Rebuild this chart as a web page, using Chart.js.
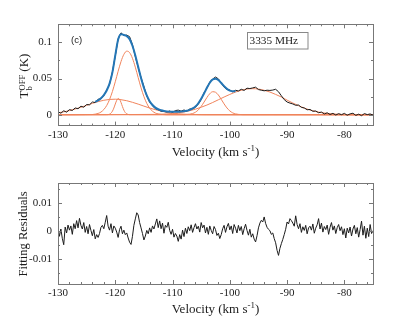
<!DOCTYPE html>
<html>
<head>
<meta charset="utf-8">
<script src="https://cdn.jsdelivr.net/npm/chart.js@4.4.1/dist/chart.umd.min.js"></script>
<style>
  html, body { margin: 0; padding: 0; background: #fff; }
  #wrap { position: relative; width: 412px; height: 334px; }
  canvas { position: absolute; left: 0; }
  #spectrum { top: 0; }
  #residuals { top: 167px; }
</style>
</head>
<body>
<div id="wrap">
  <canvas id="spectrum" width="412" height="167"></canvas>
  <canvas id="residuals" width="412" height="167"></canvas>
</div>
<script>
// observed OFF spectrum (black), channels every 0.5 km/s from -130
const specStart = -130, specStep = 0.5;
const specT = [
  0.0042, 0.0021, 0.0055, 0.0036, 0.0071, 0.0059, 0.0094, 0.0083, 0.0118, 0.0104,
  0.0141, 0.0137, 0.0176, 0.0169, 0.0214, 0.0221, 0.0264, 0.0342, 0.0421, 0.0592,
  0.0811, 0.1048, 0.1132, 0.1095, 0.1101, 0.1079, 0.0968, 0.0804, 0.0651, 0.0513,
  0.0391, 0.0258, 0.0174, 0.0126, 0.0083, 0.0071, 0.0049, 0.0046, 0.0038, 0.0052,
  0.0031, 0.0058, 0.0064, 0.0049, 0.0066, 0.0051, 0.0079, 0.0081, 0.0103, 0.0147,
  0.0209, 0.0304, 0.0368, 0.0452, 0.0494, 0.0521, 0.0496, 0.0437, 0.0381, 0.0349,
  0.0342, 0.0317, 0.0338, 0.0329, 0.0352, 0.0336, 0.0367, 0.0362, 0.0371, 0.0381,
  0.0348, 0.0339, 0.0331, 0.0339, 0.0336, 0.0341, 0.0352, 0.0318, 0.0262, 0.0209,
  0.0176, 0.0161, 0.0149, 0.0131, 0.0134, 0.0102, 0.0094, 0.0069, 0.0073, 0.0048,
  0.0052, 0.0028, 0.0037, 0.0011, 0.0027, 0.0003, 0.0019, -0.0004, 0.0015, 0.0001,
  0.0019, -0.0007, 0.0012, 0.0021, -0.0009, 0.0008, -0.0013, 0.0016, 0.0002, 0.0011,
  -0.0004
];

// total fit (blue)
const fitStart = -123.5, fitStep = 0.5;
const fitT = [
  0.0178, 0.0199, 0.0229, 0.0272, 0.0335, 0.0430, 0.0585, 0.0820, 0.1039, 0.1114,
  0.1102, 0.1087, 0.1045, 0.0954, 0.0820, 0.0663, 0.0508, 0.0373, 0.0267, 0.0188,
  0.0135, 0.0099, 0.0076, 0.0062, 0.0052, 0.0045, 0.0042, 0.0040, 0.0040, 0.0041,
  0.0044, 0.0048, 0.0056, 0.0068, 0.0087, 0.0115, 0.0159, 0.0220, 0.0293, 0.0372,
  0.0443, 0.0487, 0.0499, 0.0480, 0.0439, 0.0395, 0.0358, 0.0334, 0.0324, 0.0326
];

// gaussian components (orange)
const compAVel = [-130, -124, -123.5, -123, -122.5, -122, -121.5, -121, -120.5, -120, -119.5,
  -119, -118.5, -118, -117.5, -117, -116.5, -116, -115.5, -115, -114.5, -114, -113.5, -113,
  -112.5, -112, -111.5, -111, -75];
const compAT = [0, 0.0003, 0.0008, 0.0018, 0.0037, 0.0072, 0.0127, 0.0210, 0.0321, 0.0456, 0.0601,
  0.0735, 0.0834, 0.0879, 0.0859, 0.0780, 0.0657, 0.0513, 0.0372, 0.0251, 0.0157, 0.0091, 0.0049, 0.0024,
  0.0011, 0.0005, 0.0002, 0, 0];

const compBVel = [-130, -121.5, -121.25, -121, -120.75, -120.5, -120.25, -120, -119.75, -119.5,
  -119.25, -119, -118.75, -118.5, -118.25, -118, -117.75, -117.5, -75];
const compBT = [0, 0.0001, 0.0002, 0.0008, 0.0022, 0.0049, 0.0092, 0.0148, 0.0199, 0.0224,
  0.0213, 0.0170, 0.0114, 0.0064, 0.0030, 0.0012, 0.0004, 0.0001, 0];

const compCVel = [-130, -129, -128, -127, -126, -125, -124, -123, -122, -121, -120, -119, -118, -117,
  -116, -115, -114, -113, -112, -111, -110, -109, -108, -107, -106, -105, -104, -75];
const compCT = [0.0027, 0.0040, 0.0057, 0.0079, 0.0103, 0.0130, 0.0157, 0.0181, 0.0200, 0.0212, 0.0215,
  0.0208, 0.0194, 0.0172, 0.0147, 0.0119, 0.0093, 0.0070, 0.0050, 0.0034, 0.0022, 0.0014, 0.0008,
  0.0005, 0.0003, 0.0001, 0, 0];

const compDVel = [-130, -108, -107.5, -107, -106.5, -106, -105.5, -105, -104.5, -104, -103.5, -103,
  -102.5, -102, -101.5, -101, -100.5, -100, -99.5, -99, -98.5, -98, -97.5, -75];
const compDT = [0, 0.0001, 0.0003, 0.0007, 0.0017, 0.0035, 0.0067, 0.0115, 0.0175, 0.0238, 0.0291, 0.0318,
  0.0311, 0.0273, 0.0213, 0.0150, 0.0094, 0.0053, 0.0026, 0.0012, 0.0005, 0.0002, 0.0001, 0];

const compEVel = [-130, -113, -112, -111, -110, -109, -108, -107, -106, -105, -104, -103, -102, -101,
  -100, -99, -98, -97, -96, -95, -94, -93, -92, -91, -90, -89, -88, -87, -86, -85, -84, -83, -82,
  -81, -80, -79, -78, -75];
const compET = [0, 0.0005, 0.0007, 0.0011, 0.0018, 0.0027, 0.0039, 0.0056, 0.0077, 0.0104, 0.0134,
  0.0169, 0.0207, 0.0245, 0.0281, 0.0314, 0.0338, 0.0355, 0.0360, 0.0355, 0.0338, 0.0314, 0.0281,
  0.0245, 0.0202, 0.0162, 0.0125, 0.0092, 0.0065, 0.0044, 0.0029, 0.0018, 0.0011, 0.0006, 0.0003,
  0.0001, 0, 0];

// fitting residuals, channels every 0.25 km/s from -130
const resStart = -130, resStep = 0.25;
const resT = [
  0.0012, -0.0018, 0.0008, -0.0025,   -0.0048, 0.0015, -0.0006, 0.0022,
  0.0004, 0.0019, -0.0011, 0.0027,    0.0009, 0.0038, 0.0012, 0.0046,
  0.0021, 0.0008, 0.0031, -0.0004,    0.0017, -0.0009, 0.0024, 0.0003,
  -0.0016, 0.0006, -0.0027, -0.0012,  -0.0022, -0.0008, 0.0014, 0.0021,
  0.0009, 0.0032, 0.0056, 0.0018,     0.0004, 0.0027, -0.0006, 0.0019,
  0.0011, -0.0003, -0.0022, 0.0006,   0.0018, -0.0009, 0.0004, -0.0012,
  -0.0006, -0.0024, -0.0039, -0.0047, -0.0018, 0.0021, 0.0044, 0.0066,
  0.0058, 0.0031, 0.0012, -0.0008,    -0.0031, -0.0017, 0.0003, -0.0009,
  0.0012, -0.0004, 0.0019, 0.0008,    0.0026, 0.0044, 0.0013, 0.0037,
  0.0009, 0.0029, -0.0007, 0.0021,    0.0014, 0.0032, 0.0003, -0.0011,
  0.0007, -0.0021, -0.0008, -0.0017,  -0.0036, -0.0012, -0.0028, 0.0004,
  -0.0019, 0.0011, -0.0008, 0.0016,   0.0002, 0.0023, -0.0004, 0.0013,
  0.0027, 0.0008, 0.0018, -0.0003,    0.0031, 0.0012, 0.0022, -0.0006,
  0.0014, -0.0011, 0.0019, 0.0003,    -0.0009, 0.0017, 0.0006, -0.0015,
  -0.0007, -0.0026, -0.0012, 0.0009,  0.0021, -0.0004, 0.0016, 0.0028,
  0.0005, 0.0019, -0.0008, 0.0024,    0.0011, -0.0006, 0.0021, 0.0002,
  0.0017, -0.0012, 0.0009, 0.0025,    0.0003, -0.0014, 0.0007, -0.0021,
  -0.0009, -0.0028, -0.0038, -0.0016, 0.0012, 0.0029, 0.0039, 0.0033,
  0.0051, 0.0028, 0.0014, 0.0007,     0.0002, -0.0011, -0.0006, -0.0026,
  -0.0041, -0.0068, -0.0086, -0.0061, -0.0044, -0.0029, -0.0012, 0.0007,
  0.0033, 0.0026, 0.0045, 0.0038,     0.0029, 0.0018, 0.0055, 0.0024,
  0.0009, 0.0027, -0.0004, 0.0016,    0.0003, 0.0021, -0.0009, 0.0012,
  0.0018, 0.0004, 0.0026, -0.0007,    0.0011, 0.0023, 0.0045, 0.0008,
  0.0029, -0.0003, 0.0017, 0.0006,    0.0022, -0.0011, 0.0014, 0.0031,
  0.0004, 0.0019, -0.0008, 0.0013,    0.0024, 0.0002, 0.0016, -0.0012,
  0.0009, -0.0024, 0.0011, -0.0006,   0.0015, -0.0017, 0.0008, 0.0021,
  -0.0009, 0.0013, -0.0021, 0.0006,   0.0036, -0.0014, 0.0018, -0.0025,
  0.0011, -0.0019, 0.0024, -0.0008,   0.0002
];

// axis ticks
const xMajor = [-130, -120, -110, -100, -90, -80];
const xMinor = [-128, -126, -124, -122, -118, -116, -114, -112, -108, -106, -104, -102,
  -98, -96, -94, -92, -88, -86, -84, -82, -78, -76];
const yTopMajor = [0, 0.05, 0.1];
const yTopMinor = [0.025, 0.075];
const yResMajor = [-0.01, 0, 0.01];
const yResMinor = [-0.015, -0.005, 0.005, 0.015];

const blue = 'rgb(36,118,182)';
const orange = 'rgb(240,132,92)';
const ink = '#1c1c1c';
const serif = '"Liberation Serif", "Times New Roman", serif';
const tickFont = {family: serif, size: 11};

const onGrid = (start, step, vals) => vals.map((v, i) => ({x: start + step * i, y: v}));
const toPoints = (vel, vals) => vals.map((v, i) => ({x: vel[i], y: v}));

function xAxis(height) {
    return {
        type: 'linear', min: -130, max: -75,
        grid: {display: false, drawTicks: false},
        border: {display: false},
        afterBuildTicks: s => { s.ticks = xMajor.map(v => ({value: v})); },
        afterFit: s => { s.height = height; },
        ticks: {padding: 3, color: ink, font: tickFont, maxRotation: 0, autoSkip: false,
            callback: v => String(v)}
    };
}

function yAxis(min, max, majors) {
    return {
        type: 'linear', min: min, max: max,
        grid: {display: false, drawTicks: false},
        border: {display: false},
        afterBuildTicks: s => { s.ticks = majors.map(v => ({value: v})); },
        afterFit: s => { s.width = 58; },
        ticks: {padding: 6, color: ink, font: tickFont, autoSkip: false,
            callback: v => String(v)}
    };
}

// text with a superscript part, centred horizontally
function drawVelocityTitle(ctx, cx, baseline) {
    ctx.font = '13px ' + serif;
    const a = 'Velocity (km s', c = ')';
    const wa = ctx.measureText(a).width, wc = ctx.measureText(c).width;
    ctx.font = '9px ' + serif;
    const wb = ctx.measureText('-1').width;
    let x = cx - (wa + wb + wc) / 2;
    ctx.textAlign = 'left';
    ctx.textBaseline = 'alphabetic';
    ctx.font = '13px ' + serif;
    ctx.fillText(a, x, baseline);
    x += wa;
    ctx.font = '9px ' + serif;
    ctx.fillText('-1', x, baseline - 5);
    x += wb;
    ctx.font = '13px ' + serif;
    ctx.fillText(c, x, baseline);
}

const framePlugin = {
    id: 'frame',
    afterDraw(chart, args, opts) {
        const {ctx, chartArea: a, scales: {x, y}} = chart;
        ctx.save();
        ctx.strokeStyle = '#777';
        ctx.lineWidth = 1;
        ctx.beginPath();
        const vTicks = (vals, len) => vals.forEach(v => {
            const px = Math.round(x.getPixelForValue(v)) + 0.5;
            ctx.moveTo(px, a.bottom); ctx.lineTo(px, a.bottom - len);
            ctx.moveTo(px, a.top); ctx.lineTo(px, a.top + len);
        });
        const hTicks = (vals, len) => vals.forEach(v => {
            const py = Math.round(y.getPixelForValue(v)) + 0.5;
            ctx.moveTo(a.left, py); ctx.lineTo(a.left + len, py);
            ctx.moveTo(a.right, py); ctx.lineTo(a.right - len, py);
        });
        vTicks(xMajor, 4);
        vTicks(xMinor, 2);
        hTicks(opts.yMajor, 4);
        hTicks(opts.yMinor, 2);
        ctx.stroke();
        ctx.strokeRect(Math.round(a.left) + 0.5, Math.round(a.top) + 0.5,
            Math.round(a.right - a.left), Math.round(a.bottom - a.top));
        ctx.fillStyle = ink;
        opts.titles(ctx, a);
        ctx.restore();
    }
};

function topTitles(ctx, a) {
    drawVelocityTitle(ctx, (a.left + a.right) / 2, 155.5);

    // rotated T_b^OFF (K)
    ctx.save();
    ctx.translate(28, 76);
    ctx.rotate(-Math.PI / 2);
    ctx.font = '13px ' + serif;
    const wT = ctx.measureText('T').width;
    const wK = ctx.measureText(' (K)').width;
    ctx.font = '8.5px ' + serif;
    const wO = ctx.measureText('OFF').width;
    let x = -(wT + wO + wK) / 2;
    ctx.textAlign = 'left';
    ctx.textBaseline = 'alphabetic';
    ctx.font = '13px ' + serif;
    ctx.fillText('T', x, 0);
    x += wT;
    ctx.font = '8.5px ' + serif;
    ctx.fillText('OFF', x, -3.5);
    ctx.fillText('b', x, 4);
    x += wO;
    ctx.font = '13px ' + serif;
    ctx.fillText(' (K)', x, 0);
    ctx.restore();

    // panel label and frequency box
    ctx.font = '9.5px "Liberation Sans", Arial, sans-serif';
    ctx.textAlign = 'left';
    ctx.textBaseline = 'middle';
    ctx.fillText('(c)', 71, 40);

    ctx.strokeStyle = '#888';
    ctx.strokeRect(247.5, 32.5, 60.5, 16.5);
    ctx.font = '11.3px ' + serif;
    ctx.fillText('3335 MHz', 249.5, 41.2);
}

function bottomTitles(ctx, a) {
    drawVelocityTitle(ctx, (a.left + a.right) / 2, 145.5);
    ctx.save();
    ctx.translate(27, 67);
    ctx.rotate(-Math.PI / 2);
    ctx.font = '12.5px ' + serif;
    ctx.textAlign = 'center';
    ctx.textBaseline = 'alphabetic';
    ctx.fillText('Fitting Residuals', 0, 0);
    ctx.restore();
}

const baseOptions = {
    responsive: false,
    devicePixelRatio: 1,
    animation: false,
    events: [],
    elements: {point: {radius: 0}, line: {tension: 0}},
    plugins: {legend: {display: false}, tooltip: {enabled: false}}
};

const componentLine = (vel, vals) => ({
    data: toPoints(vel, vals), borderColor: orange, borderWidth: 1, order: 2,
    cubicInterpolationMode: 'monotone'
});

new Chart(document.getElementById('spectrum'), {
    type: 'line',
    data: {
        datasets: [
            {data: onGrid(fitStart, fitStep, fitT), borderColor: blue, borderWidth: 2, order: 0,
                cubicInterpolationMode: 'monotone'},
            {data: onGrid(specStart, specStep, specT), borderColor: ink, borderWidth: 1, order: 1},
            componentLine(compAVel, compAT),
            componentLine(compBVel, compBT),
            componentLine(compCVel, compCT),
            componentLine(compDVel, compDT),
            componentLine(compEVel, compET)
        ]
    },
    options: {
        ...baseOptions,
        layout: {padding: {left: 0, right: 39, top: 24.3, bottom: 0}},
        scales: {x: xAxis(41.4), y: yAxis(-0.015, 0.125, yTopMajor)},
        plugins: {...baseOptions.plugins,
            frame: {yMajor: yTopMajor, yMinor: yTopMinor, titles: topTitles}}
    },
    plugins: [framePlugin]
});

new Chart(document.getElementById('residuals'), {
    type: 'line',
    data: {
        datasets: [
            {data: onGrid(resStart, resStep, resT), borderColor: ink, borderWidth: 1}
        ]
    },
    options: {
        ...baseOptions,
        layout: {padding: {left: 0, right: 39, top: 16, bottom: 0}},
        scales: {x: xAxis(50), y: yAxis(-0.0188, 0.0172, yResMajor)},
        plugins: {...baseOptions.plugins,
            frame: {yMajor: yResMajor, yMinor: yResMinor, titles: bottomTitles}}
    },
    plugins: [framePlugin]
});
</script>
</body>
</html>
